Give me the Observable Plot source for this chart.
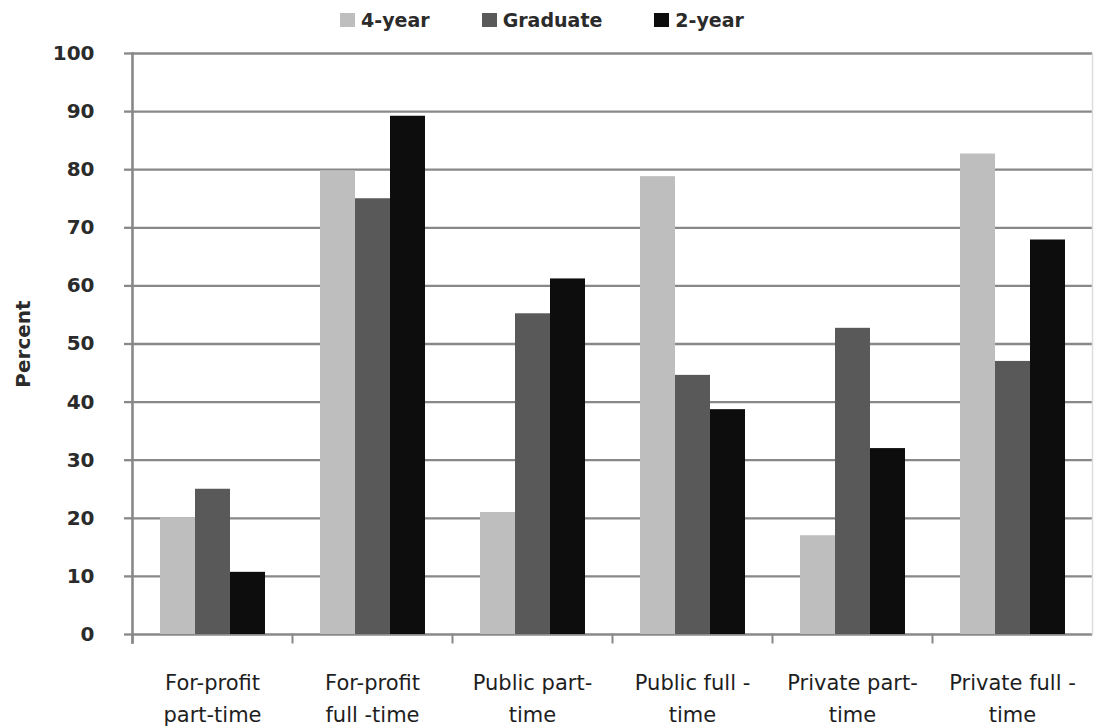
<!DOCTYPE html>
<html><head><meta charset="utf-8">
<script src="https://cdn.jsdelivr.net/npm/d3@7"></script>
<script src="https://cdn.jsdelivr.net/npm/@observablehq/plot@0.6"></script>
<style>
body{margin:0;background:#fff;font-family:"DejaVu Sans",sans-serif;overflow:hidden}
#legend{height:40px;display:flex;align-items:center;justify-content:center;gap:52px;padding-right:10px;box-sizing:border-box;font-weight:bold;font-size:19px;color:#2b2b2b}
.item{display:flex;align-items:center;gap:6px}
.sw{width:15px;height:14px;display:inline-block}
#chart svg{display:block}
</style></head><body>
<div id="legend"></div><div id="chart"></div>
<script>
const categories = ["For-profit part-time","For-profit full-time","Public part-time","Public full-time","Private part-time","Private full-time"];
const categoryLabels = ["For-profit\npart-time","For-profit\nfull -time","Public part-\ntime","Public full -\ntime","Private part-\ntime","Private full -\ntime"];
const series = ["4-year","Graduate","2-year"];
const fourYear = [20.1, 79.8, 21.0, 78.8, 17.0, 82.7];
const graduate = [25.0, 75.0, 55.2, 44.6, 52.7, 47.0];
const twoYear  = [10.7, 89.2, 61.2, 38.7, 32.0, 67.9];
const yTicks = [0,10,20,30,40,50,60,70,80,90,100];
const colors = ["#bebebe","#595959","#0d0d0d"];

const values = {"4-year": fourYear, "Graduate": graduate, "2-year": twoYear};
const data = categories.flatMap((c,i)=>series.map(s=>({category:c, series:s, value:values[s][i]})));

// legend
const legend = document.getElementById("legend");
series.forEach((s,i)=>{
  const it = document.createElement("div"); it.className="item";
  const sw = document.createElement("span"); sw.className="sw"; sw.style.background=colors[i];
  const tx = document.createElement("span"); tx.textContent=s;
  it.append(sw,tx); legend.append(it);
});

const W=1094, H=687, mt=13, mb=93, ml=132, mr=2;
const frameH = H-mt-mb;
const chart = Plot.plot({
  width:W, height:H, marginTop:mt, marginBottom:mb, marginLeft:ml, marginRight:mr,
  style:{fontFamily:"DejaVu Sans", background:"#fff", color:"#2b2b2b"},
  fx:{domain:categories, padding:0, label:null},
  x:{domain:series, paddingInner:0, paddingOuter:0.75, axis:null},
  y:{domain:[0,100], label:null},
  color:{domain:series, range:colors},
  marks:[
    Plot.ruleY(yTicks, {stroke:"#888", strokeWidth:2.3}),
    Plot.barY(data, {fx:"category", x:"series", y:"value", fill:"series", inset:0}),
    Plot.frame({anchor:"left", facetAnchor:"left", stroke:"#888", strokeWidth:2.6, insetBottom:-8}),
    Plot.frame({anchor:"left", stroke:"#888", strokeWidth:2, insetTop:frameH, insetBottom:-8}),
    Plot.frame({anchor:"right", facetAnchor:"right", stroke:"#ddd", strokeWidth:1.5}),
    Plot.axisY({ticks:yTicks, tickSize:8, tickPadding:30, fontSize:20, fontWeight:"bold", stroke:"#888", strokeWidth:2.3, fill:"#2b2b2b",
      label:"Percent", labelArrow:false, labelAnchor:"center", labelOffset:117}),
    Plot.axisFx({anchor:"bottom", tickSize:0, tickPadding:32, fontSize:21, lineHeight:1.55, label:null, fill:"#1e1e1e",
      tickFormat:(d)=>categoryLabels[categories.indexOf(d)]})
  ]
});
document.getElementById("chart").append(chart);
</script>
</body></html>
